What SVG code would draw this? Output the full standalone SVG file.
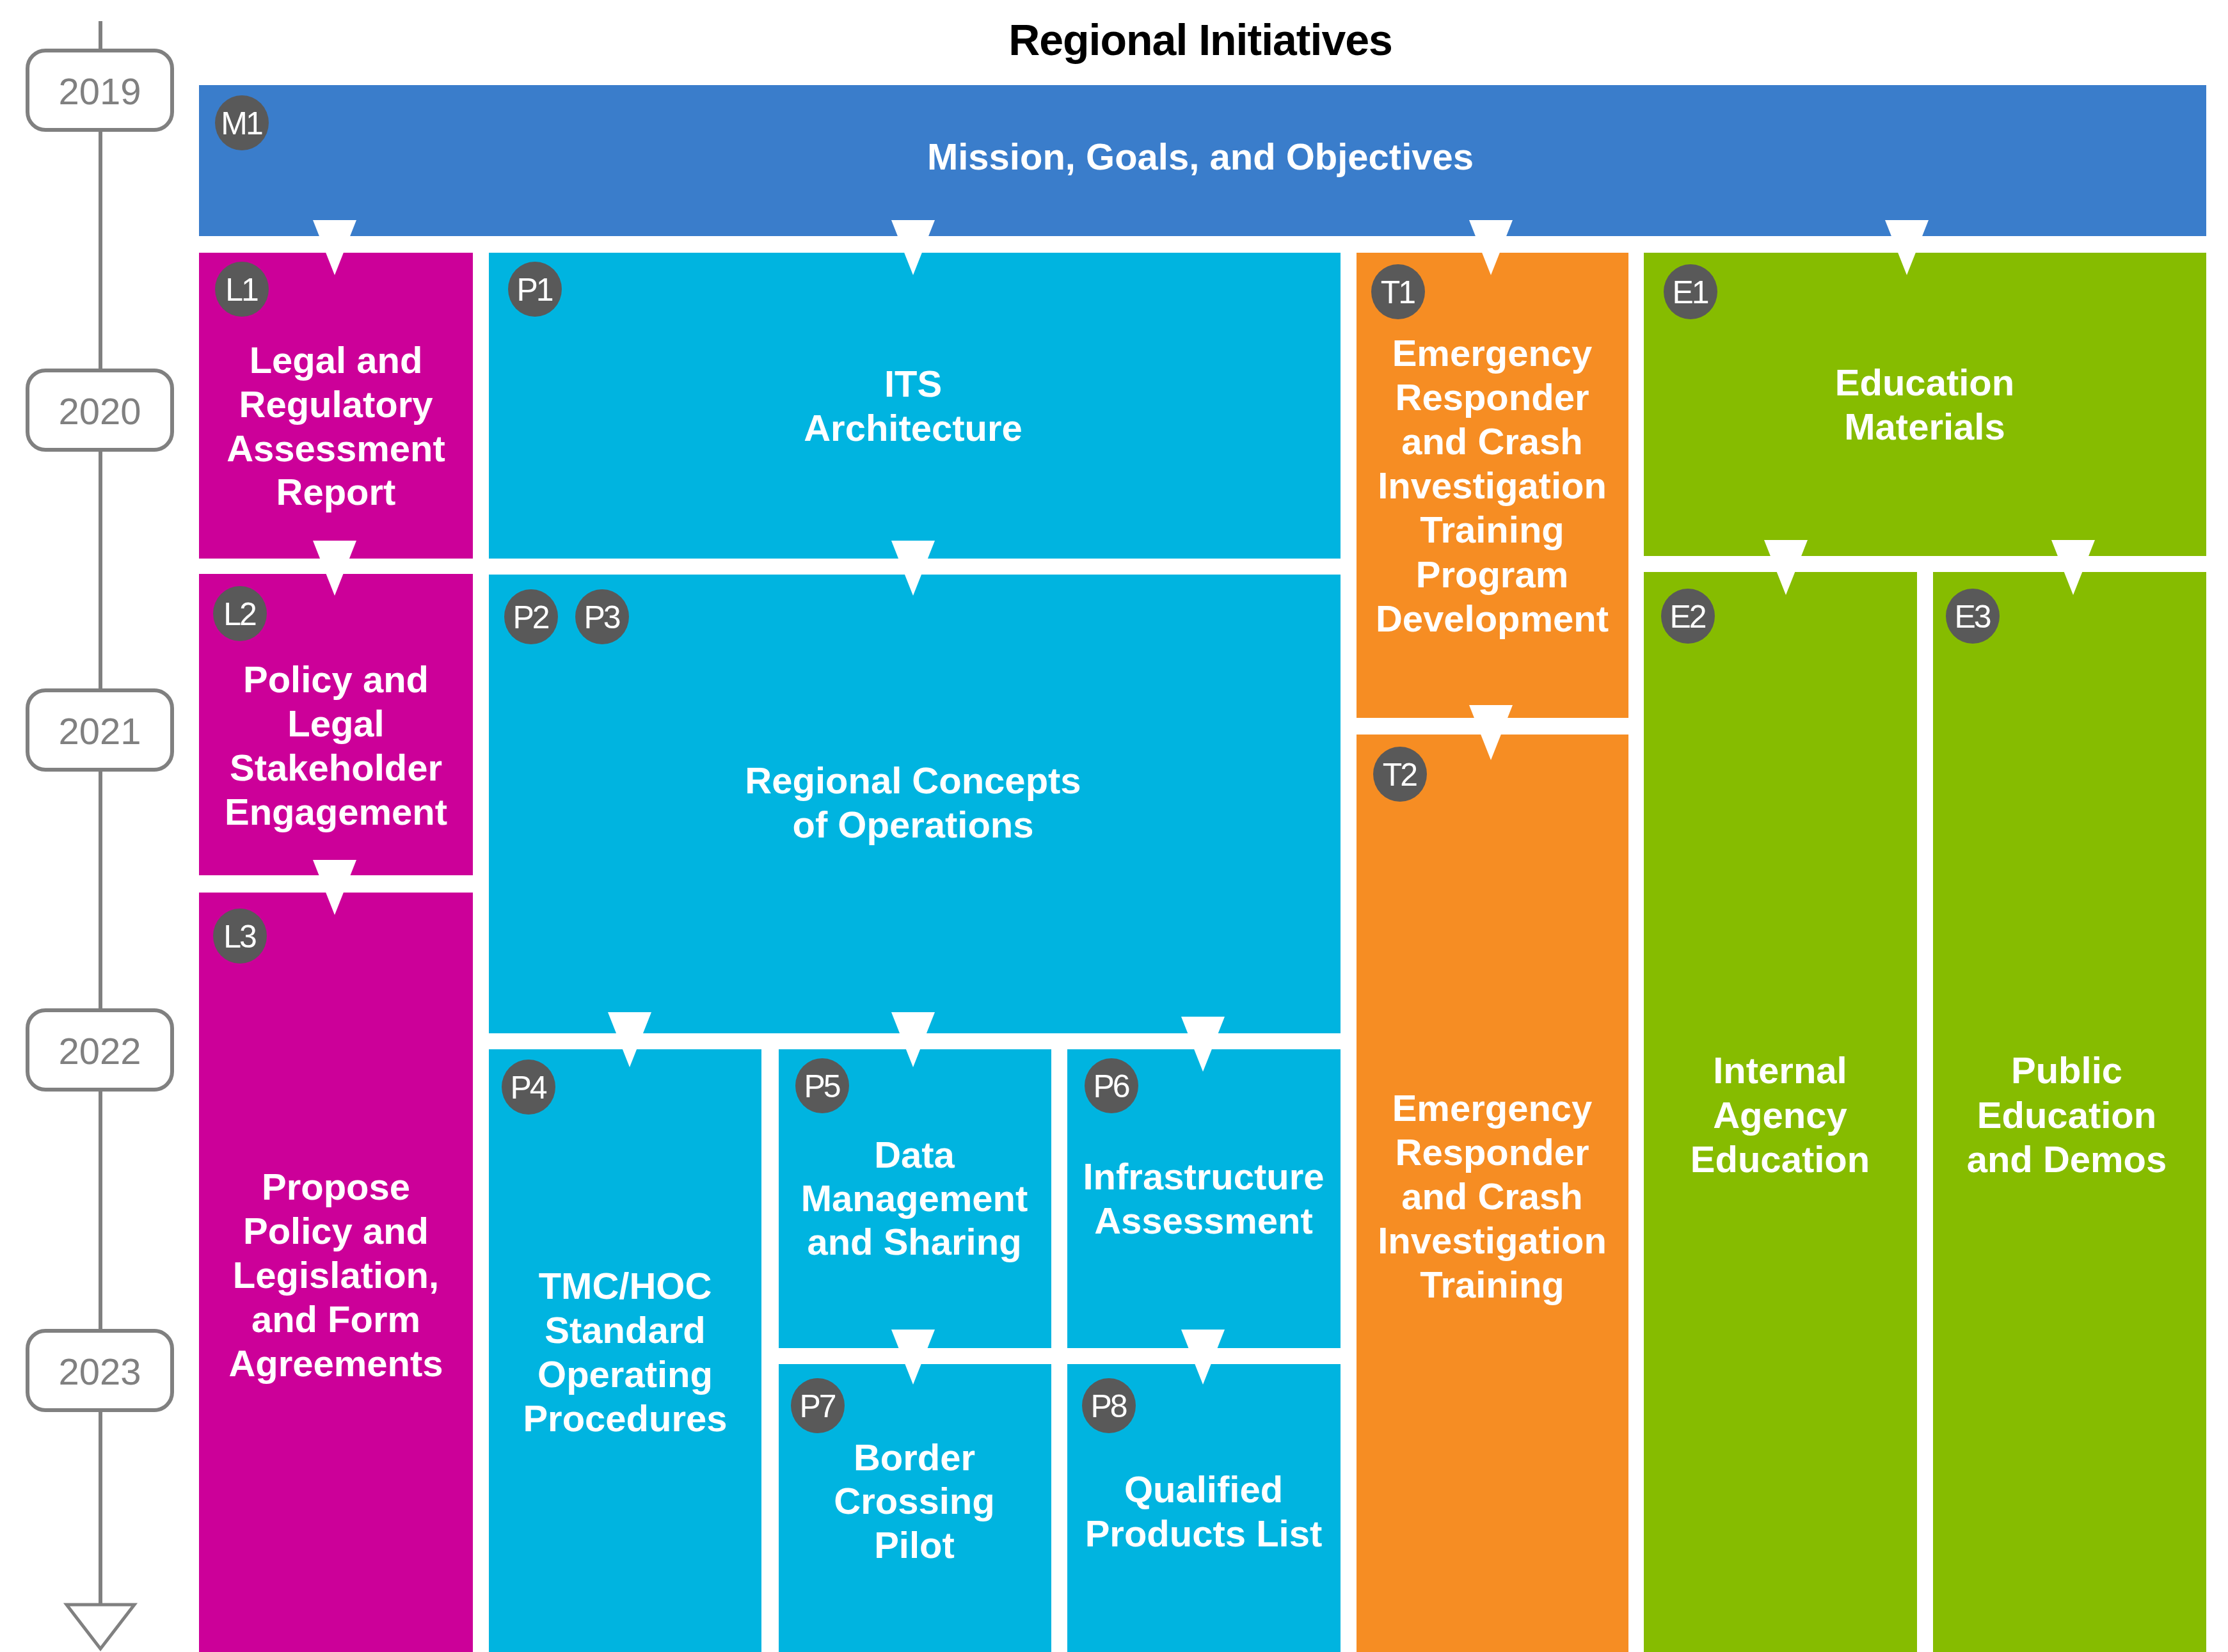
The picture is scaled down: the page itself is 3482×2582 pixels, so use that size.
<svg xmlns="http://www.w3.org/2000/svg" width="3482" height="2582" viewBox="0 0 3482 2582">
<style>
.t{font-family:"Liberation Sans",Arial,Helvetica,sans-serif;font-weight:bold;font-size:58px;fill:#ffffff;text-anchor:middle}
.b{fill:#595959}
.bt{font-family:"Liberation Sans",Arial,Helvetica,sans-serif;font-size:50px;fill:#ffffff;text-anchor:middle;letter-spacing:-3px}
.yr{fill:#ffffff;stroke:#808080;stroke-width:6}
.yt{font-family:"Liberation Sans",Arial,Helvetica,sans-serif;font-size:58px;fill:#808080;text-anchor:middle}
.m{fill:#3A7DCB}.l{fill:#CC0099}.p{fill:#00B4E0}.o{fill:#F68D23}.g{fill:#86BC00}
.ar{fill:#ffffff}
</style>
<rect width="3482" height="2582" fill="#ffffff"/>
<g id="timeline">
<line x1="157" y1="33" x2="157" y2="2508" stroke="#808080" stroke-width="6"/>
<polygon points="104,2508 210,2508 157,2577" fill="#ffffff" stroke="#808080" stroke-width="5" stroke-linejoin="miter"/>
<rect class="yr" x="43" y="79" width="226" height="124" rx="28"/>
<text class="yt" x="156" y="163">2019</text>
<rect class="yr" x="43" y="579" width="226" height="124" rx="28"/>
<text class="yt" x="156" y="663">2020</text>
<rect class="yr" x="43" y="1079" width="226" height="124" rx="28"/>
<text class="yt" x="156" y="1163">2021</text>
<rect class="yr" x="43" y="1579" width="226" height="124" rx="28"/>
<text class="yt" x="156" y="1663">2022</text>
<rect class="yr" x="43" y="2080" width="226" height="124" rx="28"/>
<text class="yt" x="156" y="2164">2023</text>
</g>
<text x="1876" y="86" font-family="Liberation Sans,Arial,sans-serif" font-weight="bold" font-size="68" fill="#000000" text-anchor="middle" letter-spacing="-1">Regional Initiatives</text>
<g id="nodes">
<g id="M1"><rect class="m" x="311" y="133" width="3137" height="236"/><ellipse class="b" cx="378" cy="192" rx="42" ry="43"/><text class="bt" x="377" y="210">M1</text><text class="t" x="1876" y="265">Mission, Goals, and Objectives</text></g>
<g id="L1"><rect class="l" x="311" y="395" width="428" height="478"/><ellipse class="b" cx="378" cy="452" rx="42" ry="43"/><text class="bt" x="377" y="470">L1</text><text class="t" x="525" y="583">Legal and<tspan x="525" dy="69">Regulatory</tspan><tspan x="525" dy="69">Assessment</tspan><tspan x="525" dy="68">Report</tspan></text></g>
<g id="L2"><rect class="l" x="311" y="897" width="428" height="471"/><ellipse class="b" cx="375" cy="959" rx="42" ry="43"/><text class="bt" x="374" y="977">L2</text><text class="t" x="525" y="1082">Policy and<tspan x="525" dy="69">Legal</tspan><tspan x="525" dy="69">Stakeholder</tspan><tspan x="525" dy="69">Engagement</tspan></text></g>
<g id="L3"><rect class="l" x="311" y="1395" width="428" height="1187"/><ellipse class="b" cx="375" cy="1463" rx="42" ry="43"/><text class="bt" x="374" y="1481">L3</text><text class="t" x="525" y="1875">Propose<tspan x="525" dy="69">Policy and</tspan><tspan x="525" dy="69">Legislation,</tspan><tspan x="525" dy="69">and Form</tspan><tspan x="525" dy="69">Agreements</tspan></text></g>
<g id="P1"><rect class="p" x="764" y="395" width="1331" height="478"/><ellipse class="b" cx="836" cy="452" rx="42" ry="43"/><text class="bt" x="835" y="470">P1</text><text class="t" x="1427" y="620">ITS<tspan x="1427" dy="69">Architecture</tspan></text></g>
<g id="P2P3"><rect class="p" x="764" y="898" width="1331" height="717"/><ellipse class="b" cx="830" cy="964" rx="42" ry="43"/><text class="bt" x="829" y="982">P2</text><ellipse class="b" cx="941" cy="964" rx="42" ry="43"/><text class="bt" x="940" y="982">P3</text><text class="t" x="1427" y="1240">Regional Concepts<tspan x="1427" dy="69">of Operations</tspan></text></g>
<g id="P4"><rect class="p" x="764" y="1640" width="426" height="942"/><ellipse class="b" cx="826" cy="1699" rx="42" ry="43"/><text class="bt" x="825" y="1717">P4</text><text class="t" x="977" y="2030">TMC/HOC<tspan x="977" dy="69">Standard</tspan><tspan x="977" dy="69">Operating</tspan><tspan x="977" dy="69">Procedures</tspan></text></g>
<g id="P5"><rect class="p" x="1217" y="1640" width="426" height="467"/><ellipse class="b" cx="1285" cy="1697" rx="42" ry="43"/><text class="bt" x="1284" y="1715">P5</text><text class="t" x="1429" y="1825">Data<tspan x="1429" dy="68">Management</tspan><tspan x="1429" dy="68">and Sharing</tspan></text></g>
<g id="P6"><rect class="p" x="1668" y="1640" width="427" height="467"/><ellipse class="b" cx="1737" cy="1697" rx="42" ry="43"/><text class="bt" x="1736" y="1715">P6</text><text class="t" x="1881" y="1859">Infrastructure<tspan x="1881" dy="69">Assessment</tspan></text></g>
<g id="P7"><rect class="p" x="1217" y="2132" width="426" height="450"/><ellipse class="b" cx="1278" cy="2197" rx="42" ry="43"/><text class="bt" x="1277" y="2215">P7</text><text class="t" x="1429" y="2298">Border<tspan x="1429" dy="68">Crossing</tspan><tspan x="1429" dy="69">Pilot</tspan></text></g>
<g id="P8"><rect class="p" x="1668" y="2132" width="427" height="450"/><ellipse class="b" cx="1733" cy="2197" rx="42" ry="43"/><text class="bt" x="1732" y="2215">P8</text><text class="t" x="1881" y="2348">Qualified<tspan x="1881" dy="69">Products List</tspan></text></g>
<g id="T1"><rect class="o" x="2120" y="395" width="425" height="727"/><ellipse class="b" cx="2185" cy="456" rx="42" ry="43"/><text class="bt" x="2184" y="474">T1</text><text class="t" x="2332" y="572">Emergency<tspan x="2332" dy="69">Responder</tspan><tspan x="2332" dy="69">and Crash</tspan><tspan x="2332" dy="69">Investigation</tspan><tspan x="2332" dy="69">Training</tspan><tspan x="2332" dy="70">Program</tspan><tspan x="2332" dy="69">Development</tspan></text></g>
<g id="T2"><rect class="o" x="2120" y="1148" width="425" height="1434"/><ellipse class="b" cx="2188" cy="1210" rx="42" ry="43"/><text class="bt" x="2187" y="1228">T2</text><text class="t" x="2332" y="1752">Emergency<tspan x="2332" dy="69">Responder</tspan><tspan x="2332" dy="69">and Crash</tspan><tspan x="2332" dy="69">Investigation</tspan><tspan x="2332" dy="69">Training</tspan></text></g>
<g id="E1"><rect class="g" x="2569" y="395" width="879" height="474"/><ellipse class="b" cx="2642" cy="456" rx="42" ry="43"/><text class="bt" x="2641" y="474">E1</text><text class="t" x="3008" y="618">Education<tspan x="3008" dy="69">Materials</tspan></text></g>
<g id="E2"><rect class="g" x="2569" y="894" width="427" height="1688"/><ellipse class="b" cx="2638" cy="963" rx="42" ry="43"/><text class="bt" x="2637" y="981">E2</text><text class="t" x="2782" y="1693">Internal<tspan x="2782" dy="70">Agency</tspan><tspan x="2782" dy="69">Education</tspan></text></g>
<g id="E3"><rect class="g" x="3021" y="894" width="427" height="1688"/><ellipse class="b" cx="3083" cy="963" rx="42" ry="43"/><text class="bt" x="3082" y="981">E3</text><text class="t" x="3230" y="1693">Public<tspan x="3230" dy="70">Education</tspan><tspan x="3230" dy="69">and Demos</tspan></text></g>
</g>
<g id="connectors">
<polygon class="ar" points="489,344 557,344 523,430"/>
<polygon class="ar" points="1393,344 1461,344 1427,430"/>
<polygon class="ar" points="2296,344 2364,344 2330,430"/>
<polygon class="ar" points="2946,344 3014,344 2980,430"/>
<polygon class="ar" points="489,845 557,845 523,931"/>
<polygon class="ar" points="1393,845 1461,845 1427,931"/>
<polygon class="ar" points="489,1344 557,1344 523,1430"/>
<polygon class="ar" points="2296,1102 2364,1102 2330,1188"/>
<polygon class="ar" points="2757,844 2825,844 2791,930"/>
<polygon class="ar" points="3206,844 3274,844 3240,930"/>
<polygon class="ar" points="950,1582 1018,1582 984,1668"/>
<polygon class="ar" points="1393,1582 1461,1582 1427,1668"/>
<polygon class="ar" points="1846,1589 1914,1589 1880,1675"/>
<polygon class="ar" points="1393,2078 1461,2078 1427,2164"/>
<polygon class="ar" points="1846,2078 1914,2078 1880,2164"/>
</g>
</svg>
